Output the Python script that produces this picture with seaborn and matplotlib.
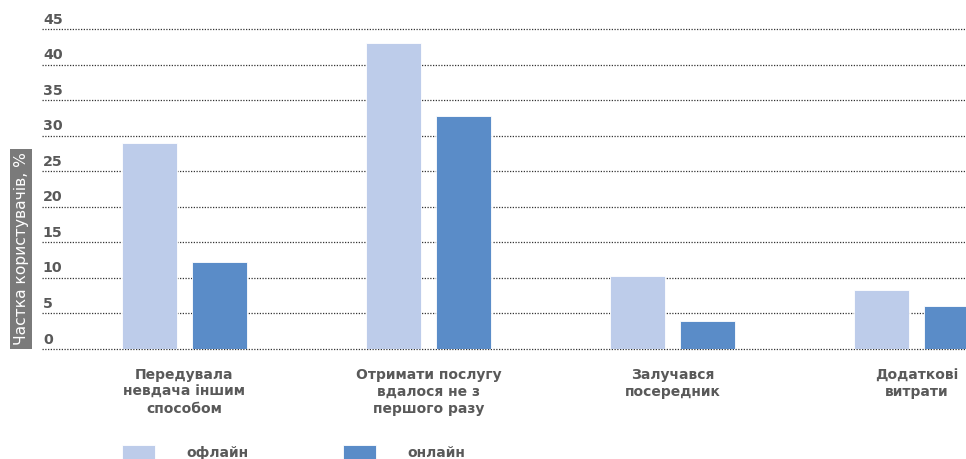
import matplotlib
matplotlib.use("Agg")
import matplotlib.pyplot as plt
import seaborn as sns
import pandas as pd

categories = ["Передувала\nневдача іншим\nспособом",
              "Отримати послугу\nвдалося не з\nпершого разу",
              "Залучався\nпосередник",
              "Додаткові\nвитрати"]
offline = [29.0, 43.0, 10.3, 8.3]
online = [12.3, 32.7, 3.9, 6.0]
series_names = ["офлайн", "онлайн"]
yticks = [0, 5, 10, 15, 20, 25, 30, 35, 40, 45]
ylabel = "Частка користувачів, %"

colors = ["#BDCCEA", "#5A8CC8"]
text_gray = "#595959"
FONT = ["DejaVu Sans"]

df = pd.DataFrame({
    "cat": categories * 2,
    "val": offline + online,
    "series": [series_names[0]] * len(categories) + [series_names[1]] * len(categories),
})

sns.set_theme(style="white")
plt.rcParams["font.family"] = FONT

fig = plt.figure(figsize=(9.66, 4.59), dpi=100)
ax = fig.add_axes([42 / 966, 110 / 459, 1 - 42 / 966, 320 / 459])

sns.barplot(data=df, x="cat", y="val", hue="series", palette=colors,
            width=0.574, gap=0.21, ax=ax, saturation=1, legend=True,
            edgecolor="white", linewidth=0.6)

ax.set_xlim(-0.584, 3.203)
ax.set_ylim(0, 45)
ax.set_yticks(yticks)
ax.set_yticklabels([])
ax.tick_params(axis="y", length=0)
ax.tick_params(axis="x", length=0, pad=14)
ax.set_xticks(range(len(categories)))
ax.set_xticklabels(categories, fontsize=10, fontweight="bold", color=text_gray,
                   linespacing=1.25, va="top")
for s in ax.spines.values():
    s.set_visible(False)
ax.set_xlabel("")
ax.set_ylabel("")
ax.grid(False)
for t in yticks:
    ax.axhline(t, color="#333333", linestyle=(0, (1, 1.2)), linewidth=0.9,
               zorder=0, clip_on=False)
    ax.text(0.001, t + 0.35, str(t), transform=ax.get_yaxis_transform(),
            ha="left", va="bottom", fontsize=10.3, fontweight="bold", color=text_gray)

fig.text(21 / 966, 1 - 249 / 459, ylabel, rotation=90, ha="center", va="center",
         fontsize=11.2, color="white", fontweight="medium",
         bbox=dict(facecolor="#7a7a7a", edgecolor="none", boxstyle="square,pad=0.2"))

handles, labels = ax.get_legend_handles_labels()
ax.legend_.remove()
fig.legend(handles, labels, loc="upper left", bbox_to_anchor=(122 / 966, 1 - 445 / 459),
           ncol=2, frameon=False, borderpad=0, borderaxespad=0,
           handlelength=2.4, handleheight=1.3,
           handletextpad=2.2, columnspacing=6.85,
           prop=dict(family=FONT, weight="bold", size=10))
for t in fig.legends[0].get_texts():
    t.set_color(text_gray)

fig.savefig("out.png", dpi=100)
